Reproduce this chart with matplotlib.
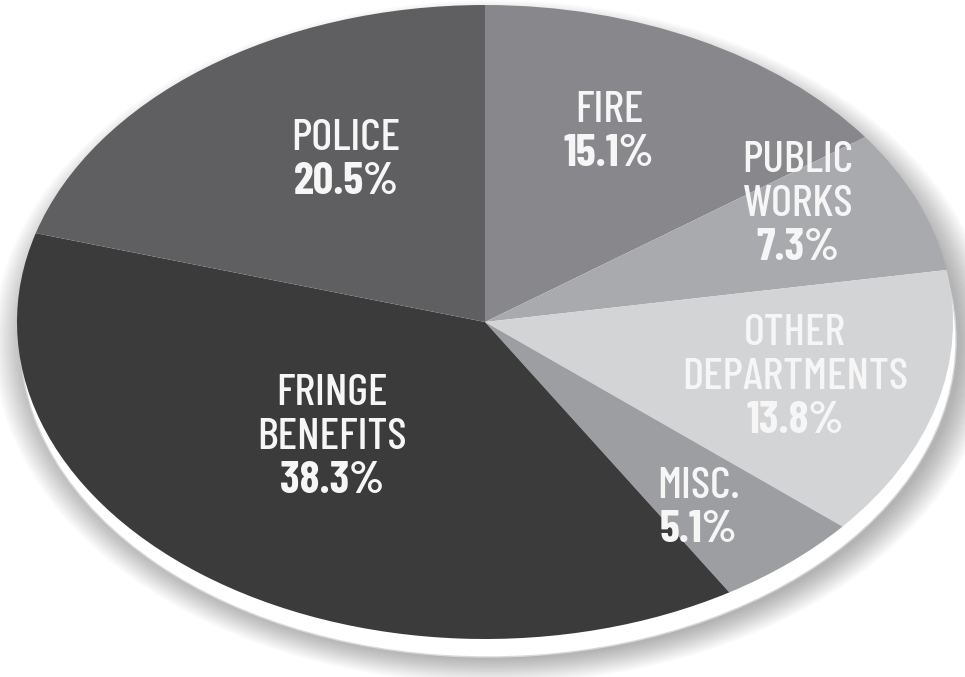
import matplotlib
matplotlib.use("Agg")
import matplotlib.pyplot as plt
from matplotlib.patches import Ellipse
import numpy as np

# ---- data ----
categories = ["FIRE", "PUBLIC\nWORKS", "OTHER\nDEPARTMENTS", "MISC.", "FRINGE\nBENEFITS", "POLICE"]
shares = [15.1, 7.3, 13.8, 5.1, 38.3, 20.5]
pct_labels = ["15.1%", "7.3%", "13.8%", "5.1%", "38.3%", "20.5%"]
colors = ["#88888c", "#a9aaad", "#d3d4d6", "#9d9ea1", "#3b3b3c", "#5f5f61"]

# ---- layout (pixels of a 965x677 canvas) ----
W, H = 965, 677
cx, cy = 485, 322          # pie centre
rx, ry = 468, 317          # ellipse radii
label_centres = [(609, 132), (798, 204), (795, 377), (698, 508), (332, 437), (346, 160)]
line_step = 44

fig = plt.figure(figsize=(W / 100, H / 100), dpi=100)
ax = fig.add_axes([0, 0, 1, 1])

def px(x, y):
    return ((x - cx) / rx, (cy - y) / ry)

# soft shadow
for i in range(16):
    grow = 0.0045 * i
    e = Ellipse(px(cx + 8, cy + 20), 2 + grow * 2, 2 + grow * 2.3,
                facecolor="#000000", edgecolor="none", alpha=0.02, zorder=1)
    ax.add_patch(e)
# white base rim
ax.add_patch(Ellipse(px(cx + 3, cy + 18), 2.0, 2.0, facecolor="white",
                     edgecolor="#d8d8d8", linewidth=1.0, zorder=2))

wedges, _ = ax.pie(shares, colors=colors, startangle=90, counterclock=False,
                   radius=1.0, center=(0, 0), frame=True,
                   wedgeprops=dict(linewidth=0))
for w in wedges:
    w.set_zorder(3)
ax.set_xlim(-cx / rx, (W - cx) / rx)
ax.set_ylim(-(H - cy) / ry, cy / ry)
ax.set_aspect("auto")
ax.set_axis_off()

fam = ["Barlow Condensed", "Roboto Condensed", "DejaVu Sans"]
for name, pct, (lx, ly) in zip(categories, pct_labels, label_centres):
    lines = name.split("\n") + [pct]
    n = len(lines)
    for i, t in enumerate(lines):
        yy = ly + (i - (n - 1) / 2) * line_step
        ax.text(*px(lx, yy), t, ha="center", va="center", color="#f6f6f6",
                fontsize=32.5, family=fam,
                fontweight=700 if i == n - 1 else 500, zorder=5)

fig.savefig("out.png", dpi=100, facecolor="white")
